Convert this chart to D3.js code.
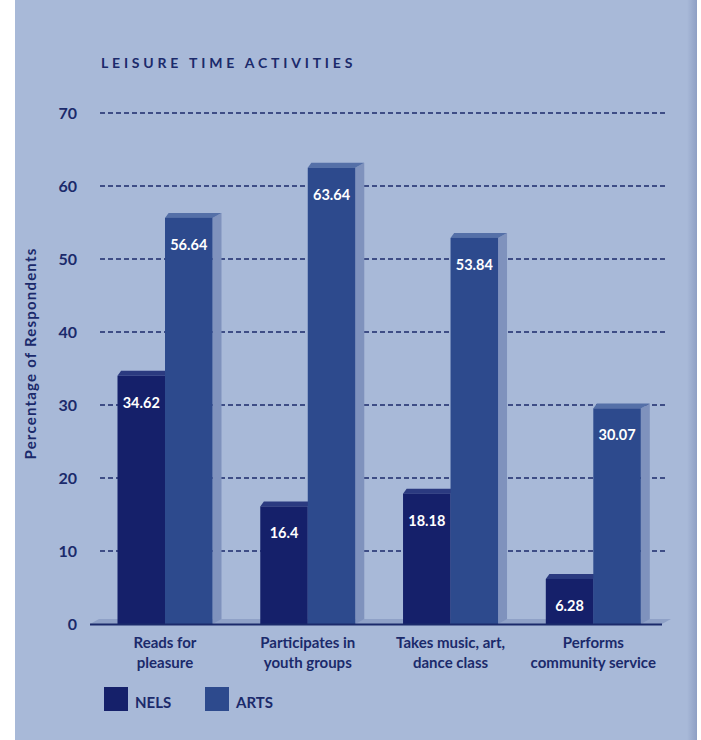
<!DOCTYPE html>
<html>
<head>
<meta charset="utf-8">
<script src="https://cdn.jsdelivr.net/npm/d3@7"></script>
<style>
  html, body { margin: 0; padding: 0; background: #ffffff; }
  svg { display: block; }
  text { font-family: Lato, "Noto Sans", sans-serif; font-weight: 700; }
</style>
</head>
<body>
<svg id="chart" width="701" height="740"></svg>
<script>
// Leisure time activities: NELS vs ARTS respondents (%)
const categories = [
  ["Reads for", "pleasure"],
  ["Participates in", "youth groups"],
  ["Takes music, art,", "dance class"],
  ["Performs", "community service"]
];
const seriesNames = ["NELS", "ARTS"];
const nelsValues = [34.62, 16.4, 18.18, 6.28];
const artsValues = [56.64, 63.64, 53.84, 30.07];
const yTicks = [0, 10, 20, 30, 40, 50, 60, 70];

const colors = {
  NELS: { front: "#15206a", top: "#2b3a80", side: "#3a4a88" },
  ARTS: { front: "#2d4a8d", top: "#5570a8", side: "#7f92bd" }
};
const ink = "#1b2a6b";
const panel = "#a8b9d8";

const svg = d3.select("#chart");

// panel
svg.append("rect").attr("x", 15).attr("y", 0).attr("width", 682).attr("height", 740).attr("fill", panel);
const edge = svg.append("defs").append("linearGradient").attr("id", "edge");
edge.append("stop").attr("offset", "0%").attr("stop-color", panel);
edge.append("stop").attr("offset", "100%").attr("stop-color", "#8e9fc4");
svg.append("rect").attr("x", 687).attr("y", 0).attr("width", 10).attr("height", 740).attr("fill", "url(#edge)");

// scales: back wall (gridlines) and front plane (bar faces)
const baseY = 624;
const depthX = 9, depthY = 5;
const y = d3.scaleLinear().domain([0, 70]).range([baseY, 113]);
const yFront = d3.scaleLinear().domain([0, 70]).range([baseY, baseY - 70 * 7.17]);
const keys = categories.map(c => c.join(" "));
const x0 = d3.scalePoint().domain(keys).range([165, 593.3]);
const x1 = d3.scaleBand().domain(seriesNames).range([-47.5, 47.5]);

// title
svg.append("text")
  .attr("x", 101).attr("y", 68)
  .attr("fill", ink)
  .style("font-size", "14px")
  .style("letter-spacing", "3.8px")
  .text("LEISURE TIME ACTIVITIES");

// gridlines
svg.append("g").selectAll("line")
  .data(yTicks.filter(d => d > 0))
  .join("line")
  .attr("x1", 100).attr("x2", 668)
  .attr("y1", d => y(d)).attr("y2", d => y(d))
  .attr("stroke", ink).attr("stroke-width", 1.3)
  .attr("stroke-dasharray", "5,3");

// y tick labels
svg.append("g").selectAll("text")
  .data(yTicks)
  .join("text")
  .attr("x", 77).attr("y", d => y(d) + 5.5)
  .attr("text-anchor", "end")
  .attr("fill", ink)
  .style("font-size", "16px")
  .text(d => d);

// y axis title
svg.append("text")
  .attr("transform", `translate(36,${(245 + 462) / 2}) rotate(-90)`)
  .attr("text-anchor", "middle")
  .attr("fill", ink)
  .style("font-size", "15px")
  .style("letter-spacing", "1.2px")
  .text("Percentage of Respondents");

// floor
svg.append("path")
  .attr("d", `M90,${baseY} L${662},${baseY} L${662 + depthX},${baseY - depthY} L${90 + depthX},${baseY - depthY} Z`)
  .attr("fill", "#8fa1c7");

// bars
const rows = [];
keys.forEach((k, i) => {
  rows.push({ key: k, series: "NELS", value: nelsValues[i] });
  rows.push({ key: k, series: "ARTS", value: artsValues[i] });
});

const bars = svg.append("g").selectAll("g")
  .data(rows)
  .join("g")
  .attr("transform", d => `translate(${x0(d.key) + x1(d.series)},0)`);

const w = x1.bandwidth();

bars.append("path")
  .attr("d", d => {
    const t = yFront(d.value);
    return `M${w},${t} L${w + depthX},${t - depthY} L${w + depthX},${baseY - depthY} L${w},${baseY} Z`;
  })
  .attr("fill", d => colors[d.series].side);

bars.append("path")
  .attr("d", d => {
    const t = yFront(d.value);
    return `M0,${t} L${depthX * 0.4},${t - depthY} L${w + depthX},${t - depthY} L${w},${t} Z`;
  })
  .attr("fill", d => colors[d.series].top);

bars.append("rect")
  .attr("x", 0).attr("width", w)
  .attr("y", d => yFront(d.value))
  .attr("height", d => baseY - yFront(d.value))
  .attr("fill", d => colors[d.series].front);

bars.append("text")
  .attr("x", w / 2)
  .attr("y", d => yFront(d.value) + 32)
  .attr("text-anchor", "middle")
  .attr("fill", "#ffffff")
  .style("font-size", "14.5px")
  .text(d => d.value);

// baseline
svg.append("line")
  .attr("x1", 90).attr("x2", 662)
  .attr("y1", baseY + 0.5).attr("y2", baseY + 0.5)
  .attr("stroke", ink).attr("stroke-width", 2);

// category labels
const cat = svg.append("g").selectAll("text")
  .data(categories)
  .join("text")
  .attr("x", (d, i) => x0(keys[i]))
  .attr("y", 648)
  .attr("text-anchor", "middle")
  .attr("fill", ink)
  .style("font-size", "15px");
cat.selectAll("tspan")
  .data(d => d)
  .join("tspan")
  .attr("x", function () { return this.parentNode.getAttribute("x"); })
  .attr("dy", (d, i) => i === 0 ? 0 : 20)
  .text(d => d);

// legend
const legend = svg.append("g").selectAll("g")
  .data(seriesNames)
  .join("g")
  .attr("transform", (d, i) => `translate(${104 + i * 101},687)`);
legend.append("rect")
  .attr("width", 24).attr("height", 24)
  .attr("fill", d => colors[d].front);
legend.append("text")
  .attr("x", 31).attr("y", 21)
  .attr("fill", ink)
  .style("font-size", "15px")
  .text(d => d);
</script>
</body>
</html>
